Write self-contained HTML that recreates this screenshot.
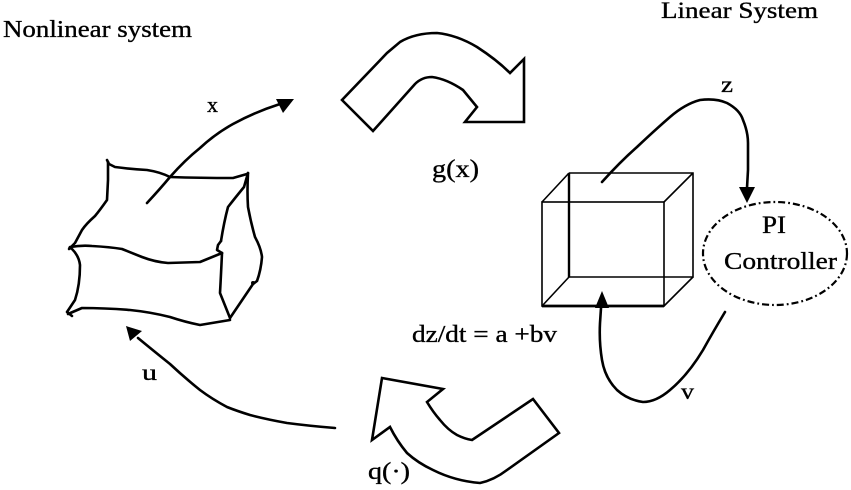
<!DOCTYPE html>
<html>
<head>
<meta charset="utf-8">
<style>
html,body{margin:0;padding:0;background:#fff;}
svg{display:block;}
text{font-family:"Liberation Serif",serif;fill:#000;stroke:#000;stroke-width:0.35;}
</style>
</head>
<body>
<svg width="851" height="490" viewBox="0 0 851 490" xmlns="http://www.w3.org/2000/svg">
<rect width="851" height="490" fill="#fff"/>

<!-- Titles -->
<text x="3" y="37" font-size="24" textLength="189" lengthAdjust="spacingAndGlyphs">Nonlinear system</text>
<text x="661" y="18" font-size="23" textLength="157" lengthAdjust="spacingAndGlyphs">Linear System</text>

<!-- Nonlinear hand-drawn box -->
<g fill="none" stroke="#000" stroke-width="2.6" stroke-linecap="round" stroke-linejoin="round">
  <path d="M107,160 L109,164 L115,167 Q130,169 147,170 Q160,172 170,177 Q200,178 233,178 L247,174"/>
  <path d="M108,162 L108,180 L107,200 Q100,210 95,216 Q86,224 82,230 L75,243 L69,249"/>
  <path d="M70,247 Q82,245 92,246 Q110,247 122,249 Q132,253 142,257 Q155,262 168,263 L200,262 L222,253"/>
  <path d="M222,253 L217,250 L218,245 L221,241"/>
  <path d="M248,173 L244,187 Q235,198 228,207 Q224,222 221,241 M222,253 Q221,275 220,293 L230,318"/>
  <path d="M248,173 Q247,192 248,207 Q251,223 255,237 Q261,248 262,257 Q261,270 257,281 L253,284 L230,318"/>
  <path d="M72,249 Q79,256 80,265 Q80,285 75,300 L67,312 L72,316"/>
  <path d="M68,314 L82,308 Q105,308 130,310 Q150,312 170,317 Q185,322 200,325 L230,320"/>
</g>
<circle cx="253" cy="283" r="2" fill="#000"/>
<circle cx="70" cy="248" r="1.8" fill="#000"/>

<!-- x arrow -->
<path d="M147,203 Q160,189 170,177 Q185,160 200,148 Q215,134 233,124 Q255,112 280,104" fill="none" stroke="#000" stroke-width="2.6" stroke-linecap="round"/>
<polygon points="294,99 276,99 283,113" fill="#000"/>
<text x="207" y="112" font-size="22" textLength="11" lengthAdjust="spacingAndGlyphs">x</text>

<!-- g(x) big arrow -->
<path d="M342,100 L373,131 L415,84 Q422,77 432,77 Q447,79 463,90 L477,107 L465,122 L524,122 L524,59 L510,73 Q497,60 477,47 Q457,35 437,33 Q415,33 400,42 L387,53 Z" fill="none" stroke="#000" stroke-width="2.6" stroke-linejoin="miter"/>
<text x="432" y="177" font-size="25" textLength="47" lengthAdjust="spacingAndGlyphs">g(x)</text>

<!-- Linear box -->
<g fill="none" stroke="#000" stroke-width="1.6">
  <rect x="542" y="202" width="122" height="104"/>
  <path d="M569,173 L693,173 L693,277 L569,277"/>
  <line x1="542" y1="202" x2="569" y2="173"/>
  <line x1="664" y1="202" x2="693" y2="173"/>
  <line x1="664" y1="306" x2="693" y2="277"/>
  <line x1="542" y1="306" x2="569" y2="277"/>
</g>
<line x1="569" y1="173" x2="569" y2="277" stroke="#000" stroke-width="2.4"/>
<line x1="542" y1="306" x2="664" y2="306" stroke="#000" stroke-width="2.8"/>

<!-- z arrow -->
<path d="M602,182 Q620,162 637,147 Q655,130 670,117 Q685,104 700,100 Q716,98 727,103 Q740,110 743,120 Q748,132 748,143 L748,170 L747,188" fill="none" stroke="#000" stroke-width="2.6" stroke-linecap="round"/>
<polygon points="747,203 739,187 755,187" fill="#000"/>
<text x="721" y="92" font-size="23" textLength="12" lengthAdjust="spacingAndGlyphs">z</text>

<!-- PI Controller -->
<ellipse cx="775" cy="253.5" rx="72" ry="51.5" fill="none" stroke="#000" stroke-width="2.2" stroke-dasharray="7 3 1.8 3"/>
<text x="762" y="233" font-size="25" textLength="24" lengthAdjust="spacingAndGlyphs">PI</text>
<text x="724" y="269" font-size="24" textLength="113" lengthAdjust="spacingAndGlyphs">Controller</text>

<!-- v arrow -->
<path d="M725,312 Q713,332 703,350 Q688,375 670,390 Q656,402 643,402 Q628,400 617,390 Q605,378 602,360 Q599,342 600,323 L601,308" fill="none" stroke="#000" stroke-width="2.6" stroke-linecap="round"/>
<polygon points="602,291 595,308 609,308" fill="#000"/>
<text x="681" y="399" font-size="23" textLength="13" lengthAdjust="spacingAndGlyphs">v</text>

<!-- equation -->
<text x="412" y="342" font-size="24" textLength="145" lengthAdjust="spacingAndGlyphs">dz/dt = a +bv</text>

<!-- u arrow -->
<path d="M335,428 Q310,426 287,423 Q265,419 250,415 Q237,411 227,407 Q212,399 200,390 Q185,378 170,364 Q155,352 138,338" fill="none" stroke="#000" stroke-width="2.6" stroke-linecap="round"/>
<polygon points="126,326 130,341 142,331" fill="#000"/>
<text x="142" y="380" font-size="23" textLength="15" lengthAdjust="spacingAndGlyphs">u</text>

<!-- q arrow -->
<path d="M382,378 L443,389 L427,402 Q433,412 440,420 Q448,430 457,435 Q465,439 472,440 L533,399 L559,433 L507,470 Q494,480 480,483 Q455,481 433,470 Q418,463 407,453 Q397,441 390,427 L372,440 Z" fill="none" stroke="#000" stroke-width="2.6" stroke-linejoin="miter"/>
<text x="368" y="479" font-size="24" textLength="42" lengthAdjust="spacingAndGlyphs">q(·)</text>
</svg>
</body>
</html>
